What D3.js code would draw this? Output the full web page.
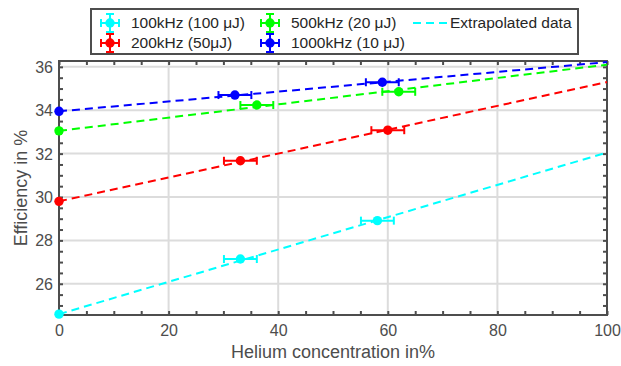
<!DOCTYPE html>
<html>
<head>
<meta charset="utf-8">
<script src="https://cdn.jsdelivr.net/npm/d3@7"></script>
<style>
  html, body { margin: 0; padding: 0; background: #fff; }
  svg { display: block; font-family: "Liberation Sans", Arial, sans-serif; }
</style>
</head>
<body>
<svg id="chart" width="621" height="366"></svg>
<script>
// ---- data ----
const seriesNames = ["100kHz (100 μJ)", "200kHz (50μJ)", "500kHz (20 μJ)", "1000kHz (10 μJ)"];
const seriesColors = ["#00ffff", "#ff0000", "#00ff00", "#0000ff"];

const heliumCyan  = [0, 33.1, 58.1];
const effCyan     = [24.6, 27.14, 28.91];
const errCyan     = [0, 3, 3];

const heliumRed   = [0, 33.1, 60.0];
const effRed      = [29.8, 31.67, 33.08];
const errRed      = [0, 3, 3];

const heliumGreen = [0, 36.1, 62.0];
const effGreen    = [33.05, 34.24, 34.85];
const errGreen    = [0, 3, 3];

const heliumBlue  = [0, 32.1, 59.0];
const effBlue     = [33.95, 34.70, 35.29];
const errBlue     = [0, 3, 3];

// extrapolated (dashed) lines: value at 0% and 100% helium
const extrapX     = [0, 100];
const extrapCyan  = [24.6, 32.05];
const extrapRed   = [29.8, 35.3];
const extrapGreen = [33.05, 36.1];
const extrapBlue  = [33.95, 36.22];

const xTicks = [0, 20, 40, 60, 80, 100];
const yTicks = [26, 28, 30, 32, 34, 36];
const xLabel = "Helium concentration in%";
const yLabel = "Efficiency in %";
const extrapLabel = "Extrapolated data";

// ---- build ----
const series = [
  { name: seriesNames[0], color: seriesColors[0], x: heliumCyan,  y: effCyan,  e: errCyan,  ex: extrapCyan },
  { name: seriesNames[1], color: seriesColors[1], x: heliumRed,   y: effRed,   e: errRed,   ex: extrapRed },
  { name: seriesNames[2], color: seriesColors[2], x: heliumGreen, y: effGreen, e: errGreen, ex: extrapGreen },
  { name: seriesNames[3], color: seriesColors[3], x: heliumBlue,  y: effBlue,  e: errBlue,  ex: extrapBlue }
];

const svg = d3.select("#chart");
const L = 59, R = 607, T = 61, B = 315;
const x = d3.scaleLinear().domain([0, 100]).range([L, R]);
const y = d3.scaleLinear().domain([24.56, 36.27]).range([B, T]);
const axisColor = "#4d4d4d";

// grid
const grid = svg.append("g");
grid.selectAll("line.gx").data(xTicks.filter(d => d > 0 && d < 100)).join("line")
  .attr("x1", d => x(d)).attr("x2", d => x(d)).attr("y1", T).attr("y2", B)
  .attr("stroke", "#dcdcdc").attr("stroke-width", 2);
grid.selectAll("line.gy").data(yTicks).join("line")
  .attr("x1", L).attr("x2", R).attr("y1", d => y(d)).attr("y2", d => y(d))
  .attr("stroke", "#dcdcdc").attr("stroke-width", 2);

// axes with inward ticks (major + minor), mirrored
const xMinor = d3.range(0, 100.01, 5);
const yMinor = d3.range(25, 36.01, 0.5);
const tickLen = 4;
function addAxis(gen, tx, ty) {
  const g = svg.append("g").attr("transform", `translate(${tx},${ty})`).call(gen);
  g.select(".domain").remove();
  g.selectAll("line").attr("stroke", axisColor).attr("stroke-width", 2);
  return g;
}
const fmt = d3.format("d");
const gxB = addAxis(d3.axisBottom(x).tickValues(xMinor).tickSize(-tickLen).tickFormat(d => xTicks.includes(d) ? fmt(d) : ""), 0, B);
const gyL = addAxis(d3.axisLeft(y).tickValues(yMinor).tickSize(-tickLen).tickFormat(d => yTicks.includes(d) ? fmt(d) : ""), L, 0);
addAxis(d3.axisTop(x).tickValues(xMinor).tickSize(-tickLen).tickFormat(""), 0, T);
addAxis(d3.axisRight(y).tickValues(yMinor).tickSize(-tickLen).tickFormat(""), R, 0);

gxB.selectAll("text").attr("fill", axisColor).attr("font-size", 16).attr("y", 10).attr("dy", "0.71em")
  .attr("font-family", "Liberation Sans, Arial, sans-serif");
gyL.selectAll("text").attr("fill", axisColor).attr("font-size", 16).attr("x", -6).attr("dy", "0.35em")
  .attr("font-family", "Liberation Sans, Arial, sans-serif");

// frame
svg.append("rect").attr("x", L).attr("y", T).attr("width", R - L).attr("height", B - T)
  .attr("fill", "none").attr("stroke", axisColor).attr("stroke-width", 2);

// axis titles
svg.append("text").attr("x", (L + R) / 2).attr("y", 358).attr("text-anchor", "middle")
  .attr("font-size", 18).attr("fill", axisColor).text(xLabel);
svg.append("text").attr("transform", `translate(27,${(T + B) / 2}) rotate(-90)`).attr("text-anchor", "middle")
  .attr("font-size", 18).attr("fill", axisColor).text(yLabel);

// extrapolated lines
const line = d3.line().x(d => x(d[0])).y(d => y(d[1]));
series.forEach(s => {
  svg.append("path").datum(extrapX.map((v, i) => [v, s.ex[i]]))
    .attr("d", line).attr("fill", "none").attr("stroke", s.color)
    .attr("stroke-width", 2).attr("stroke-dasharray", "8,5");
});

// error bars + points
const capH = 4;
series.forEach(s => {
  const g = svg.append("g");
  const pts = s.x.map((v, i) => ({ x: v, y: s.y[i], e: s.e[i] }));
  pts.filter(p => p.e > 0).forEach(p => {
    g.append("line").attr("x1", x(p.x - p.e)).attr("x2", x(p.x + p.e)).attr("y1", y(p.y)).attr("y2", y(p.y))
      .attr("stroke", s.color).attr("stroke-width", 2);
    [p.x - p.e, p.x + p.e].forEach(v => {
      g.append("line").attr("x1", x(v)).attr("x2", x(v)).attr("y1", y(p.y) - capH).attr("y2", y(p.y) + capH)
        .attr("stroke", s.color).attr("stroke-width", 2);
    });
  });
  g.selectAll("circle").data(pts).join("circle")
    .attr("cx", d => x(d.x)).attr("cy", d => y(d.y)).attr("r", 4.7).attr("fill", s.color);
});

// legend
const lg = svg.append("g");
lg.append("rect").attr("x", 91).attr("y", 9).attr("width", 487).attr("height", 45)
  .attr("fill", "#fff").attr("stroke", axisColor).attr("stroke-width", 2);
const legendPos = [[110, 23], [110, 43], [270, 23], [270, 43]];
series.forEach((s, i) => {
  const [cx, cy] = legendPos[i];
  const g = lg.append("g");
  g.append("line").attr("x1", cx - 9).attr("x2", cx + 9).attr("y1", cy).attr("y2", cy).attr("stroke", s.color).attr("stroke-width", 2);
  g.append("line").attr("x1", cx).attr("x2", cx).attr("y1", cy - 9).attr("y2", cy + 9).attr("stroke", s.color).attr("stroke-width", 2);
  [[cx - 9, cy, 0], [cx + 9, cy, 0], [cx, cy - 9, 1], [cx, cy + 9, 1]].forEach(([px, py, v]) => {
    if (v === 0) g.append("line").attr("x1", px).attr("x2", px).attr("y1", py - 4).attr("y2", py + 4).attr("stroke", s.color).attr("stroke-width", 2);
    else g.append("line").attr("x1", px - 4).attr("x2", px + 4).attr("y1", py).attr("y2", py).attr("stroke", s.color).attr("stroke-width", 2);
  });
  g.append("circle").attr("cx", cx).attr("cy", cy).attr("r", 4.7).attr("fill", s.color);
  g.append("text").attr("x", cx + 21).attr("y", cy).attr("dy", "0.35em").attr("font-size", 15.5)
    .attr("fill", "#262626").text(s.name);
});
lg.append("line").attr("x1", 413).attr("x2", 448).attr("y1", 23).attr("y2", 23)
  .attr("stroke", seriesColors[0]).attr("stroke-width", 2).attr("stroke-dasharray", "8,5");
lg.append("text").attr("x", 450).attr("y", 23).attr("dy", "0.35em").attr("font-size", 15.5)
  .attr("fill", "#262626").text(extrapLabel);
</script>
</body>
</html>
